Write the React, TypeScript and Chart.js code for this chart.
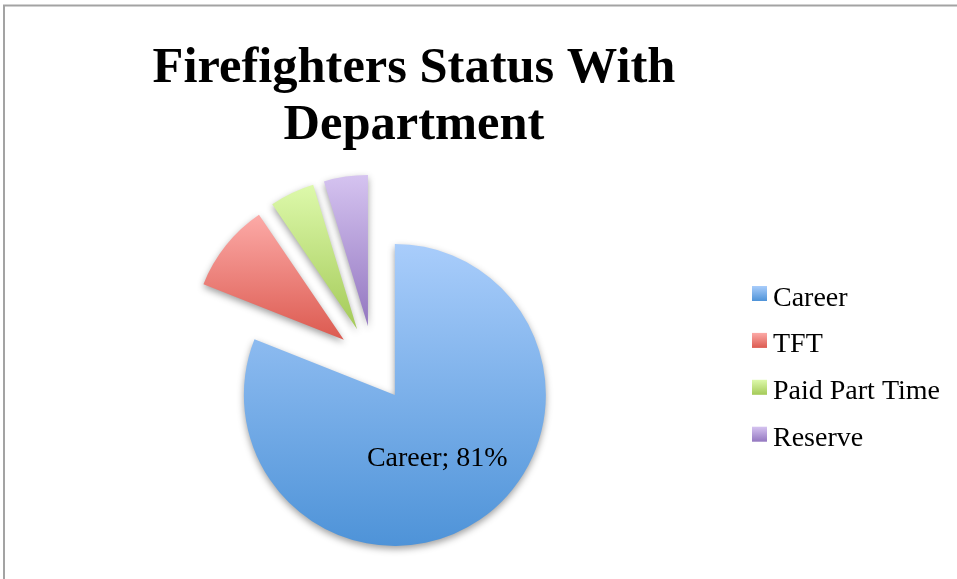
import React, { useEffect, useRef } from "react";
import { Chart, registerables } from "chart.js";

Chart.register(...registerables);

// ---- data ----
const titleLines = ["Firefighters Status With", "Department"];
const categories = ["Career", "TFT", "Paid Part Time", "Reserve"];
const shares = [81, 9.5, 4.8, 4.7];
const labelShown = [true, false, false, false];
const topColors = ["#a9cdfb", "#fcaaa7", "#ddf9ab", "#d5c3f0"];
const bottomColors = ["#4e93d8", "#dc5a50", "#a4ca58", "#9377c0"];

// ---- style ----
const W = 957;
const H = 579;
const RADIUS = 151;
const EXPLODE = 38;
const SERIF = '"Liberation Serif", "Times New Roman", serif';

function wedgeExtent(x: number, y: number, r: number, a0: number, a1: number) {
  const ys = [y, y + r * Math.sin(a0), y + r * Math.sin(a1)];
  for (const a of [-Math.PI / 2, Math.PI / 2, (3 * Math.PI) / 2]) {
    if (a >= a0 && a <= a1) ys.push(y + r * Math.sin(a));
  }
  return [Math.min(...ys), Math.max(...ys)];
}

const excelPie = {
  id: "excelPie",
  beforeDraw(chart: any) {
    const c = chart.ctx;
    c.save();
    c.fillStyle = "#ffffff";
    c.fillRect(0, 0, chart.width, chart.height);
    c.strokeStyle = "#a3a3a3";
    c.lineWidth = 2;
    c.beginPath();
    c.moveTo(4, chart.height);
    c.lineTo(4, 5.5);
    c.lineTo(chart.width, 5.5);
    c.stroke();
    c.restore();
  },
  afterDatasetsUpdate(chart: any) {
    const meta = chart.getDatasetMeta(0);
    const c = chart.ctx;
    meta.data.forEach((arc: any, i: number) => {
      const mid = (arc.startAngle + arc.endAngle) / 2;
      arc.x += Math.cos(mid) * EXPLODE;
      arc.y += Math.sin(mid) * EXPLODE;
      const [t, b] = wedgeExtent(arc.x, arc.y, arc.outerRadius, arc.startAngle, arc.endAngle);
      const g = c.createLinearGradient(0, t, 0, b);
      g.addColorStop(0, topColors[i]);
      g.addColorStop(1, bottomColors[i]);
      arc.options = Object.assign({}, arc.options, { backgroundColor: g });
    });
  },
  beforeDatasetsDraw(chart: any) {
    const c = chart.ctx;
    c.save();
    c.shadowColor = "rgba(0,0,0,0.38)";
    c.shadowBlur = 7;
    c.shadowOffsetX = 0;
    c.shadowOffsetY = 3;
  },
  afterDatasetsDraw(chart: any) {
    const c = chart.ctx;
    c.restore();
    const meta = chart.getDatasetMeta(0);
    const total = shares.reduce((s, v) => s + v, 0);
    c.save();
    c.fillStyle = "#000000";
    c.font = `28px ${SERIF}`;
    c.textAlign = "center";
    c.textBaseline = "middle";
    meta.data.forEach((arc: any, i: number) => {
      if (!labelShown[i]) return;
      const p = arc.getCenterPoint();
      const pct = Math.round((shares[i] / total) * 100);
      c.fillText(`${categories[i]}; ${pct}%`, p.x, p.y + 1);
    });
    c.restore();
  },
  afterDraw(chart: any) {
    const c = chart.ctx;
    c.save();
    // title
    c.fillStyle = "#000000";
    c.font = `bold 50.5px ${SERIF}`;
    c.textAlign = "center";
    c.textBaseline = "alphabetic";
    titleLines.forEach((line, i) => c.fillText(line, 414, 82 + i * 57));
    // legend
    c.font = `28px ${SERIF}`;
    c.textAlign = "left";
    categories.forEach((name, i) => {
      const top = 286 + i * 46.9;
      const g = c.createLinearGradient(0, top, 0, top + 15);
      g.addColorStop(0, topColors[i]);
      g.addColorStop(1, bottomColors[i]);
      c.fillStyle = g;
      c.fillRect(752, top, 15, 15);
      c.fillStyle = "#000000";
      c.fillText(name, 773, top + 19.5);
    });
    c.restore();
  },
};

export default function App() {
  const ref = useRef<HTMLCanvasElement>(null);
  useEffect(() => {
    const chart = new Chart(ref.current as HTMLCanvasElement, {
      type: "pie",
      data: {
        labels: categories,
        datasets: [
          {
            data: shares,
            backgroundColor: topColors,
            borderWidth: 0,
            radius: RADIUS,
            clip: false,
          } as any,
        ],
      },
      options: {
        responsive: false,
        animation: false,
        layout: { padding: { left: 0, right: 210, top: 148, bottom: 0 } },
        plugins: {
          legend: { display: false },
          title: { display: false },
          tooltip: { enabled: false },
        },
        events: [],
      },
      plugins: [excelPie as any],
    });
    return () => chart.destroy();
  }, []);
  return (
    <div style={{ position: "absolute", left: 0, top: 0, width: W, height: H, background: "#fff" }}>
      <canvas ref={ref} width={W} height={H} style={{ display: "block" }} />
    </div>
  );
}
